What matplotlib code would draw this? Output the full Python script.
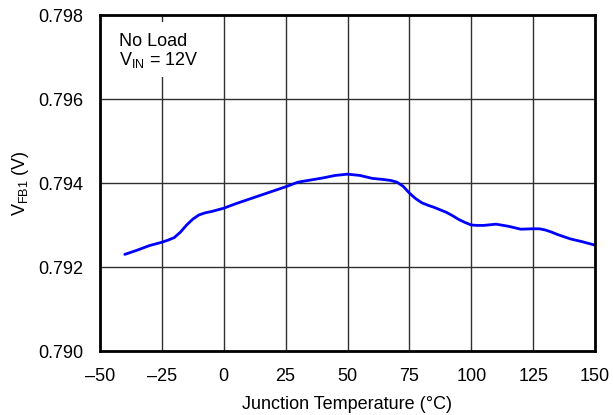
import matplotlib
matplotlib.use("Agg")
import matplotlib.pyplot as plt
from matplotlib.patches import Rectangle

plt.rcParams['font.family'] = ['Liberation Sans', 'DejaVu Sans']

# Feedback voltage vs. junction temperature
temp_c = [-40, -35, -30, -25, -22.5, -20, -17.5, -15, -12.5, -10, -7.5, -5, 0,
          5, 10, 15, 20, 25, 30, 35, 40, 45, 50, 55, 60, 65, 67.5, 70, 72.5,
          75, 77.5, 80, 82.5, 85, 90, 92.5, 95, 97.5, 100, 102.5, 105, 110,
          115, 120, 125, 127.5, 130, 132.5, 135, 140, 145, 150]
vfb1 = [0.79230, 0.79240, 0.79251, 0.79259, 0.79264, 0.79270, 0.79283,
        0.79300, 0.79314, 0.79324, 0.79329, 0.79332, 0.79340, 0.79351,
        0.79361, 0.79371, 0.79381, 0.79391, 0.79402, 0.79407, 0.79412,
        0.79418, 0.79421, 0.79418, 0.79411, 0.79408, 0.79406, 0.79402,
        0.79392, 0.79376, 0.79363, 0.79353, 0.79347, 0.79342, 0.79330,
        0.79322, 0.79313, 0.79306, 0.79300, 0.79299, 0.79299, 0.79302,
        0.79297, 0.79290, 0.79291, 0.79291, 0.79288, 0.79283, 0.79277,
        0.79267, 0.79260, 0.79252]

x_ticks = [-50, -25, 0, 25, 50, 75, 100, 125, 150]
x_tick_labels = ['\u201350', '\u201325', '0', '25', '50', '75', '100', '125', '150']
y_ticks = [0.790, 0.792, 0.794, 0.796, 0.798]
y_tick_labels = ['0.790', '0.792', '0.794', '0.796', '0.798']

FS = 13

fig = plt.figure(figsize=(6.13, 4.15), dpi=100)
ax = fig.add_axes([100 / 613, 1 - 351 / 415, 495 / 613, 336 / 415])

ax.plot(temp_c, vfb1, color='#0000ff', linewidth=2.0, zorder=3,
        solid_joinstyle='round', solid_capstyle='round')

ax.set_xlim(-50, 150)
ax.set_ylim(0.790, 0.798)
ax.set_xticks(x_ticks)
ax.set_xticklabels(x_tick_labels)
ax.set_yticks(y_ticks)
ax.set_yticklabels(y_tick_labels)
ax.tick_params(length=0, labelsize=FS, colors='black')
ax.tick_params(axis='x', pad=12)
ax.tick_params(axis='y', pad=12)
ax.grid(True, color='#303030', linewidth=1.0, zorder=1)
ax.set_axisbelow(True)
for s in ax.spines.values():
    s.set_linewidth(2.0)
    s.set_color('black')
    s.set_zorder(4)

ax.set_xlabel('Junction Temperature (\u00b0C)', fontsize=FS, labelpad=8)
ax.set_ylabel(r'V$_{\mathregular{FB1}}$ (V)', fontsize=FS, labelpad=5)

# Operating conditions note on a white patch that hides the grid behind it
ax.add_patch(Rectangle((0.02, 0.815), 0.19, 0.164, transform=ax.transAxes,
                       facecolor='white', edgecolor='none', zorder=2))
ax.text(0.038, 0.947, 'No Load\nV$_{\\mathregular{IN}}$ = 12V',
        transform=ax.transAxes, fontsize=FS, va='top', ha='left',
        linespacing=1.0, zorder=5)

fig.savefig('out.png', dpi=100)
